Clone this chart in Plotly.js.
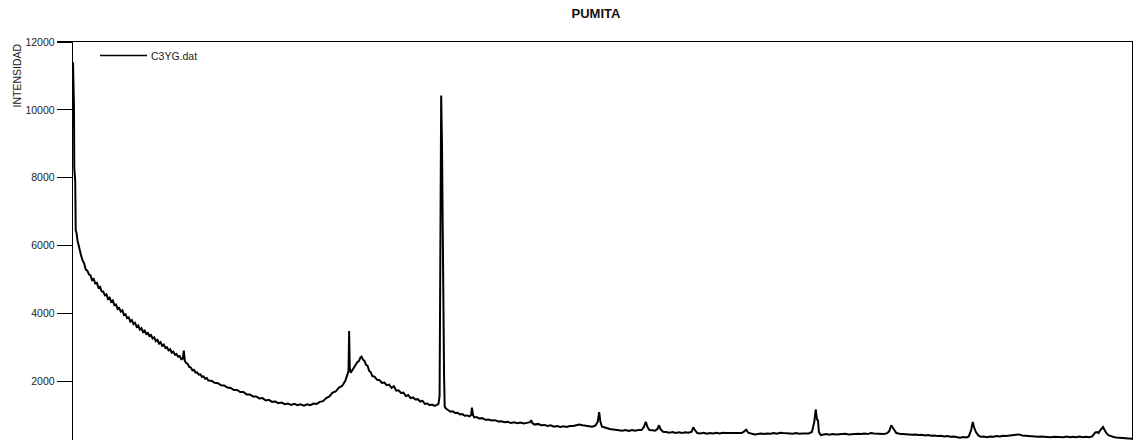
<!DOCTYPE html>
<html>
<head>
<meta charset="utf-8">
<script src="https://cdn.plot.ly/plotly-3.0.1.min.js"></script>
<style>
html,body{margin:0;padding:0;background:#fff;width:1134px;height:440px;overflow:hidden;}
#wrap{width:1134px;height:440px;overflow:hidden;position:relative;}
#chart{width:1134px;height:500px;}
</style>
</head>
<body>
<div id="wrap"><div id="chart"></div></div>
<script>
// 2-theta (degrees) and intensity
var twoTheta = [
3.50,3.52,3.54,3.56,3.58,3.61,3.64,3.67,3.72,3.78,3.85,3.92,4.00,4.10,4.20,4.30,4.40,4.50,4.60,4.70,4.80,4.90,
5.00,5.10,5.20,5.30,5.40,5.50,5.60,5.70,5.80,5.90,6.00,6.10,6.20,6.30,6.40,6.50,6.60,6.70,6.80,6.90,
7.00,7.10,7.20,7.30,7.40,7.50,7.60,7.70,7.80,7.90,8.00,8.10,8.20,8.30,8.40,8.50,8.60,8.70,8.80,8.90,
9.00,9.10,9.20,9.30,9.40,9.50,9.60,9.70,9.80,9.90,10.00,10.10,10.20,10.30,10.40,10.46,10.52,10.60,10.70,10.80,10.90,
11.00,11.10,11.20,11.30,11.40,11.50,11.60,11.70,11.80,11.90,12.00,12.20,12.40,12.60,12.80,13.00,13.20,13.40,13.60,13.80,
14.00,14.20,14.40,14.60,14.80,15.00,15.20,15.40,15.60,15.80,16.00,16.20,16.40,16.60,16.80,17.00,17.20,17.40,17.60,17.80,
18.00,18.20,18.40,18.60,18.80,19.00,19.20,19.40,19.60,19.80,20.00,20.20,20.40,20.60,20.72,20.80,20.84,20.88,20.94,
21.05,21.15,21.25,21.35,21.45,21.55,21.62,21.70,21.80,21.90,22.00,22.10,22.20,22.30,22.45,22.60,22.75,22.90,
23.05,23.20,23.35,23.50,23.65,23.80,23.95,24.10,24.25,24.40,24.55,24.70,24.85,25.00,25.15,25.30,25.45,25.60,25.75,25.90,
26.05,26.20,26.35,26.45,26.52,26.57,26.62,26.67,26.72,26.76,26.80,26.84,26.92,27.05,27.20,27.35,27.50,27.65,27.80,27.95,
28.10,28.25,28.40,28.50,28.55,28.62,28.70,28.85,29.00,29.20,29.40,29.60,29.80,30.00,30.20,30.40,30.60,30.80,
31.00,31.20,31.40,31.60,31.80,32.00,32.20,32.27,32.35,32.50,32.70,32.90,33.10,33.30,33.50,33.70,33.90,
34.10,34.30,34.50,34.70,34.90,35.10,35.30,35.50,35.70,35.90,36.10,36.30,36.45,36.54,36.62,36.72,36.85,
37.00,37.20,37.40,37.60,37.80,38.00,38.20,38.40,38.60,38.80,39.00,39.20,39.35,39.47,39.58,39.70,39.90,
40.05,40.20,40.30,40.40,40.55,40.75,40.95,41.15,41.35,41.55,41.75,41.95,42.15,42.35,42.45,42.55,42.70,42.90,
43.10,43.30,43.50,43.70,43.90,44.10,44.30,44.50,44.70,44.90,45.10,45.30,45.50,45.65,45.78,45.90,
46.10,46.30,46.50,46.70,46.90,47.10,47.30,47.50,47.70,47.90,48.10,48.30,48.50,48.70,48.90,
49.10,49.30,49.50,49.70,49.90,50.05,50.14,50.22,50.28,50.34,50.45,50.60,50.80,51.00,51.20,51.40,51.60,51.80,
52.00,52.20,52.40,52.60,52.80,53.00,53.20,53.40,53.60,53.80,54.00,54.20,54.40,54.60,54.75,54.88,54.96,
55.07,55.20,55.40,55.60,55.80,56.00,56.20,56.40,56.60,56.80,57.00,57.20,57.40,57.60,57.80,
58.00,58.20,58.40,58.60,58.80,59.00,59.20,59.40,59.60,59.75,59.90,60.00,60.08,60.20,60.35,60.50,60.70,60.90,
61.10,61.30,61.50,61.70,61.90,62.10,62.30,62.50,62.70,62.90,63.10,63.30,63.50,63.70,63.90,
64.10,64.30,64.50,64.70,64.90,65.10,65.30,65.50,65.70,65.90,66.10,66.30,66.50,66.70,66.90,
67.10,67.30,67.50,67.70,67.80,67.90,68.00,68.10,68.18,68.28,68.40,68.55,68.70,68.85,69.00,69.20,69.40,69.60,69.80,70.00
];
var intensity = [
11400,11000,10250,10150,8300,8050,7900,6450,6380,6150,6020,5800,5720,5560,5470,5290,5260,5150,5120,4980,5010,4880,
4900,4760,4780,4650,4640,4530,4560,4420,4460,4340,4380,4240,4260,4130,4160,4050,4090,3950,3970,3860,
3880,3760,3800,3680,3720,3600,3640,3520,3560,3450,3490,3390,3420,3330,3360,3260,3290,3180,3220,3110,
3150,3040,3080,2980,3000,2910,2940,2840,2870,2780,2800,2720,2740,2650,2670,2900,2600,2540,2510,2420,2400,
2320,2330,2250,2260,2190,2200,2130,2140,2070,2090,2020,2010,1950,1940,1880,1870,1810,1800,1740,1740,
1680,1680,1610,1610,1550,1550,1490,1500,1430,1450,1390,1400,1350,1370,1320,1340,1300,1330,1290,1320,
1280,1320,1290,1340,1330,1390,1410,1500,1550,1660,1700,1810,1860,2010,2180,2300,3480,2400,2250,
2330,2420,2460,2560,2590,2700,2720,2640,2600,2480,2450,2300,2260,2150,2130,2040,2030,1950,
1960,1880,1900,1800,1850,1720,1730,1650,1660,1560,1590,1500,1520,1460,1470,1400,1420,1330,1340,1290,
1310,1270,1300,1330,1560,6000,10420,9000,5600,5500,2200,1250,1190,1150,1100,1110,1060,1070,1020,1030,
980,990,960,1000,1220,1000,930,940,900,910,860,870,840,850,810,820,790,800,
770,790,760,780,750,770,790,850,760,720,740,700,710,680,700,660,680,
650,670,650,680,680,710,720,700,690,680,660,690,800,1090,800,660,630,
620,590,580,560,550,540,560,530,560,540,560,560,650,800,640,560,550,
540,590,700,580,510,500,480,500,470,490,470,490,480,510,640,560,470,460,
480,450,470,460,480,460,480,470,470,460,470,450,470,520,570,480,
450,430,440,460,440,460,450,470,450,480,470,460,470,450,470,
450,460,450,460,500,800,1165,870,850,500,410,420,440,420,440,430,440,430,
450,430,440,430,450,440,460,440,470,460,450,460,440,460,520,700,640,
530,470,450,440,430,440,420,430,410,420,400,410,390,400,380,
390,370,380,360,370,340,330,350,340,370,560,800,640,500,400,360,370,350,
370,360,380,370,390,380,390,400,410,430,400,390,380,370,380,
360,370,360,370,350,360,350,360,350,370,350,360,350,370,350,
360,350,370,490,500,470,550,600,650,560,460,400,370,355,340,330,340,320,310,305
];
var seriesName = "C3YG.dat";
var chartTitle = "PUMITA";
var yTitle = "INTENSIDAD";
var yTicks = [2000,4000,6000,8000,10000,12000];

var trace = {
  x: twoTheta, y: intensity, type: 'scatter', mode: 'lines', name: seriesName,
  line: {color: '#000000', width: 2}, showlegend: false, hoverinfo: 'skip'
};

var layout = {
  width: 1134, height: 500,
  margin: {l: 73, r: 2, t: 42, b: 51},
  paper_bgcolor: '#ffffff', plot_bgcolor: '#ffffff',
  font: {family: 'Liberation Sans, Arial, sans-serif', color: '#222222', size: 10.5},
  title: {text: '<b>' + chartTitle + '</b>', font: {size: 13, color: '#111111', family: 'Liberation Sans, Arial, sans-serif'},
          x: 596/1134, xref: 'container', xanchor: 'center', y: 1 - 13/500, yref: 'container', yanchor: 'middle'},
  xaxis: {range: [3.5, 70], showgrid: false, zeroline: false, showline: true, linecolor: '#000', linewidth: 1,
          mirror: true, ticks: '', showticklabels: false},
  yaxis: {range: [0, 12000], tickvals: yTicks, ticktext: yTicks.map(String), showgrid: false, zeroline: false,
          showline: true, linecolor: '#000', linewidth: 1.3, mirror: true, ticks: 'outside', ticklen: 15,
          tickcolor: '#000', tickwidth: 1.3, tickfont: {size: 10.5, color: '#222'}},
  shapes: [
    {type: 'line', xref: 'paper', yref: 'paper', x0: (100-73)/1059, x1: (147-73)/1059,
     y0: 1 - (55.5-42)/406.7, y1: 1 - (55.5-42)/406.7, line: {color: '#000', width: 1.5}}
  ],
  annotations: [
    {text: seriesName, xref: 'paper', yref: 'paper', x: (149-73)/1059, y: 1 - (55.5-42)/406.7,
     xanchor: 'left', yanchor: 'middle', showarrow: false, font: {size: 10.5, color: '#222'}},
    {text: yTitle, xref: 'paper', yref: 'paper', x: (16.5-73)/1059, y: 1, textangle: -90,
     xanchor: 'center', yanchor: 'top', showarrow: false, font: {size: 10.5, color: '#222'}}
  ]
};

Plotly.newPlot('chart', [trace], layout, {staticPlot: true, displayModeBar: false});
</script>
</body>
</html>
